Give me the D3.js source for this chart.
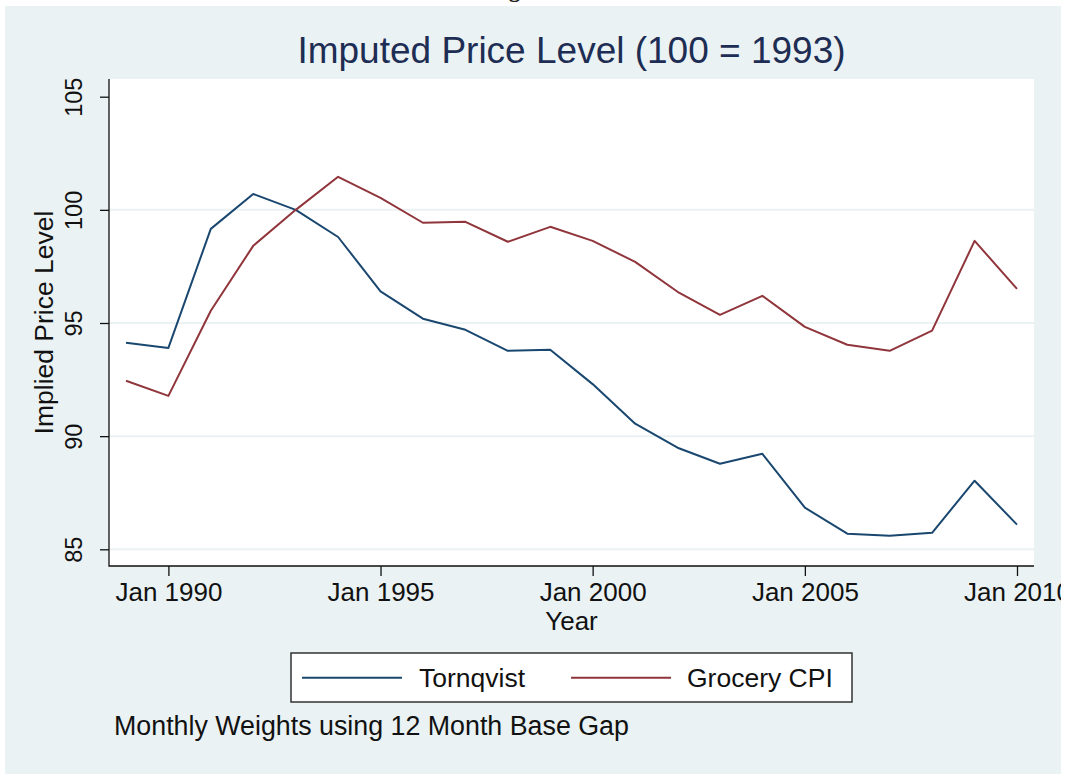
<!DOCTYPE html>
<html>
<head>
<meta charset="utf-8">
<script src="https://cdn.jsdelivr.net/npm/d3@7"></script>
<style>
	body { margin: 0; background: #fff; }
	text { font-family: "Liberation Sans", Arial, Helvetica, sans-serif; }
</style>
</head>
<body>
<script>
var years      = [1989, 1990, 1991, 1992, 1993, 1994, 1995, 1996, 1997, 1998, 1999,
                  2000, 2001, 2002, 2003, 2004, 2005, 2006, 2007, 2008, 2009, 2010];
var tornqvist  = [94.13, 93.90, 99.16, 100.70, 100.00, 98.80, 96.40, 95.19, 94.70, 93.77, 93.82,
                  92.30, 90.55, 89.49, 88.78, 89.22, 86.84, 85.69, 85.60, 85.73, 88.03, 86.09];
var grocery    = [92.45, 91.78, 95.54, 98.41, 100.00, 101.46, 100.53, 99.43, 99.47, 98.59, 99.25,
                  98.63, 97.70, 96.38, 95.36, 96.20, 94.83, 94.04, 93.77, 94.66, 98.63, 96.51];
var yTicks     = [85, 90, 95, 100, 105];
var gridTicks  = [85, 90, 95, 100];
var seriesNames = ["Tornqvist", "Grocery CPI"];
//}}}
// geoms //{{{
var W = 1067, H = 774;
var graph = { x0: 5, y0: 6, x1: 1061, y1: 774 };
var plot = { x0: 109, x1: 1034, y0: 79, y1: 566 };
var col = { bg: "#eaf2f3", blue: "#1a476f", red: "#90353b", title: "#1e2d53", ink: "#111" };
//}}}

var svg = d3.select("body").append("svg").attr("width", W).attr("height", H);

svg.append("rect").attr("width", W).attr("height", H).attr("fill", "#fff");
// cut-off caption letter sticking in from above the graph
svg.append("text").attr("x", 507).attr("y", -3)
	.style("font-family", "'DejaVu Serif', 'Liberation Serif', serif")
	.style("font-size", "26px").attr("fill", "#222").text("g");

svg.append("clipPath").attr("id", "graph_clip").append("rect")
	.attr("x", graph.x0).attr("y", graph.y0)
	.attr("width", graph.x1 - graph.x0).attr("height", graph.y1 - graph.y0);

var g = svg.append("g").attr("clip-path", "url(#graph_clip)");
g.append("rect").attr("x", graph.x0).attr("y", graph.y0)
	.attr("width", graph.x1 - graph.x0).attr("height", graph.y1 - graph.y0).attr("fill", col.bg);
g.append("rect").attr("x", plot.x0).attr("y", plot.y0)
	.attr("width", plot.x1 - plot.x0).attr("height", plot.y1 - plot.y0).attr("fill", "#fff");

// scales //{{{
var dates = years.map(function(y) { return new Date(y, 0, 1); });
var x = d3.scaleTime()
	.domain([dates[0], dates[dates.length - 1]])
	.range([126, 1017]);
var y = d3.scaleLinear()
	.domain([85, 105])
	.range([549.3, 96.7]);
//}}}
// grid //{{{
g.append("g").selectAll("line").data(gridTicks).join("line")
	.attr("x1", plot.x0).attr("x2", plot.x1)
	.attr("y1", function(d) { return y(d); }).attr("y2", function(d) { return y(d); })
	.attr("stroke", col.bg).attr("stroke-width", 2);
//}}}
// lines //{{{
var line = d3.line()
	.x(function(d, i) { return x(dates[i]); })
	.y(function(d) { return y(d); });

g.append("path").datum(tornqvist).attr("d", line)
	.attr("fill", "none").attr("stroke", col.blue).attr("stroke-width", 2).attr("stroke-linejoin", "round");
g.append("path").datum(grocery).attr("d", line)
	.attr("fill", "none").attr("stroke", col.red).attr("stroke-width", 2).attr("stroke-linejoin", "round");
//}}}
// axes //{{{
var gX = g.append("g").attr("transform", "translate(0," + plot.y1 + ")")
	.call(d3.axisBottom(x)
		.ticks(d3.timeYear.every(5))
		.tickFormat(d3.timeFormat("%b %Y"))
		.tickSize(10).tickSizeOuter(0).tickPadding(7));
gX.select(".domain").remove();
gX.selectAll("line").attr("stroke", col.ink).attr("stroke-width", 1.3);
gX.selectAll("text").style("font-size", "26px").attr("fill", col.ink);

var gY = g.append("g").attr("transform", "translate(" + plot.x0 + ",0)")
	.call(d3.axisLeft(y).tickValues(yTicks).tickSize(9).tickSizeOuter(0));
gY.select(".domain").remove();
gY.selectAll("line").attr("stroke", col.ink).attr("stroke-width", 1.3);
gY.selectAll("text")
	.attr("x", null).attr("dy", null).attr("y", null)
	.attr("text-anchor", "middle")
	.attr("transform", "translate(-27,0) rotate(-90)")
	.style("font-size", "23.5px").attr("fill", col.ink);

g.append("path")
	.attr("d", "M" + plot.x0 + "," + plot.y0 + "V" + plot.y1 + "H" + plot.x1)
	.attr("fill", "none").attr("stroke", col.ink).attr("stroke-width", 1.3);
//}}}
// titles //{{{
g.append("text").attr("x", (plot.x0 + plot.x1) / 2).attr("y", 63)
	.attr("text-anchor", "middle").style("font-size", "37px").attr("fill", col.title)
	.text("Imputed Price Level (100 = 1993)");
g.append("text").attr("x", (plot.x0 + plot.x1) / 2).attr("y", 630)
	.attr("text-anchor", "middle").style("font-size", "26px").attr("fill", col.ink)
	.text("Year");
g.append("text")
	.attr("transform", "translate(53," + (plot.y0 + plot.y1) / 2 + ") rotate(-90)")
	.attr("text-anchor", "middle").style("font-size", "26.5px").attr("fill", col.ink)
	.text("Implied Price Level");
g.append("text").attr("x", 114).attr("y", 735)
	.style("font-size", "26.8px").attr("fill", col.ink)
	.text("Monthly Weights using 12 Month Base Gap");
//}}}
// legend //{{{
var lg = g.append("g");
lg.append("rect").attr("x", 291).attr("y", 653).attr("width", 561).attr("height", 49)
	.attr("fill", "#fff").attr("stroke", "#333").attr("stroke-width", 1.5);
var keys = [
	{ name: seriesNames[0], c: col.blue, lx: 302, tx: 419 },
	{ name: seriesNames[1], c: col.red,  lx: 571, tx: 687 }
];
keys.forEach(function(k) {
	lg.append("line").attr("x1", k.lx).attr("x2", k.lx + 100).attr("y1", 677.7).attr("y2", 677.7)
		.attr("stroke", k.c).attr("stroke-width", 2);
	lg.append("text").attr("x", k.tx).attr("y", 687)
		.style("font-size", "26.5px").attr("fill", col.ink).text(k.name);
});
//}}}
</script>
</body>
</html>
